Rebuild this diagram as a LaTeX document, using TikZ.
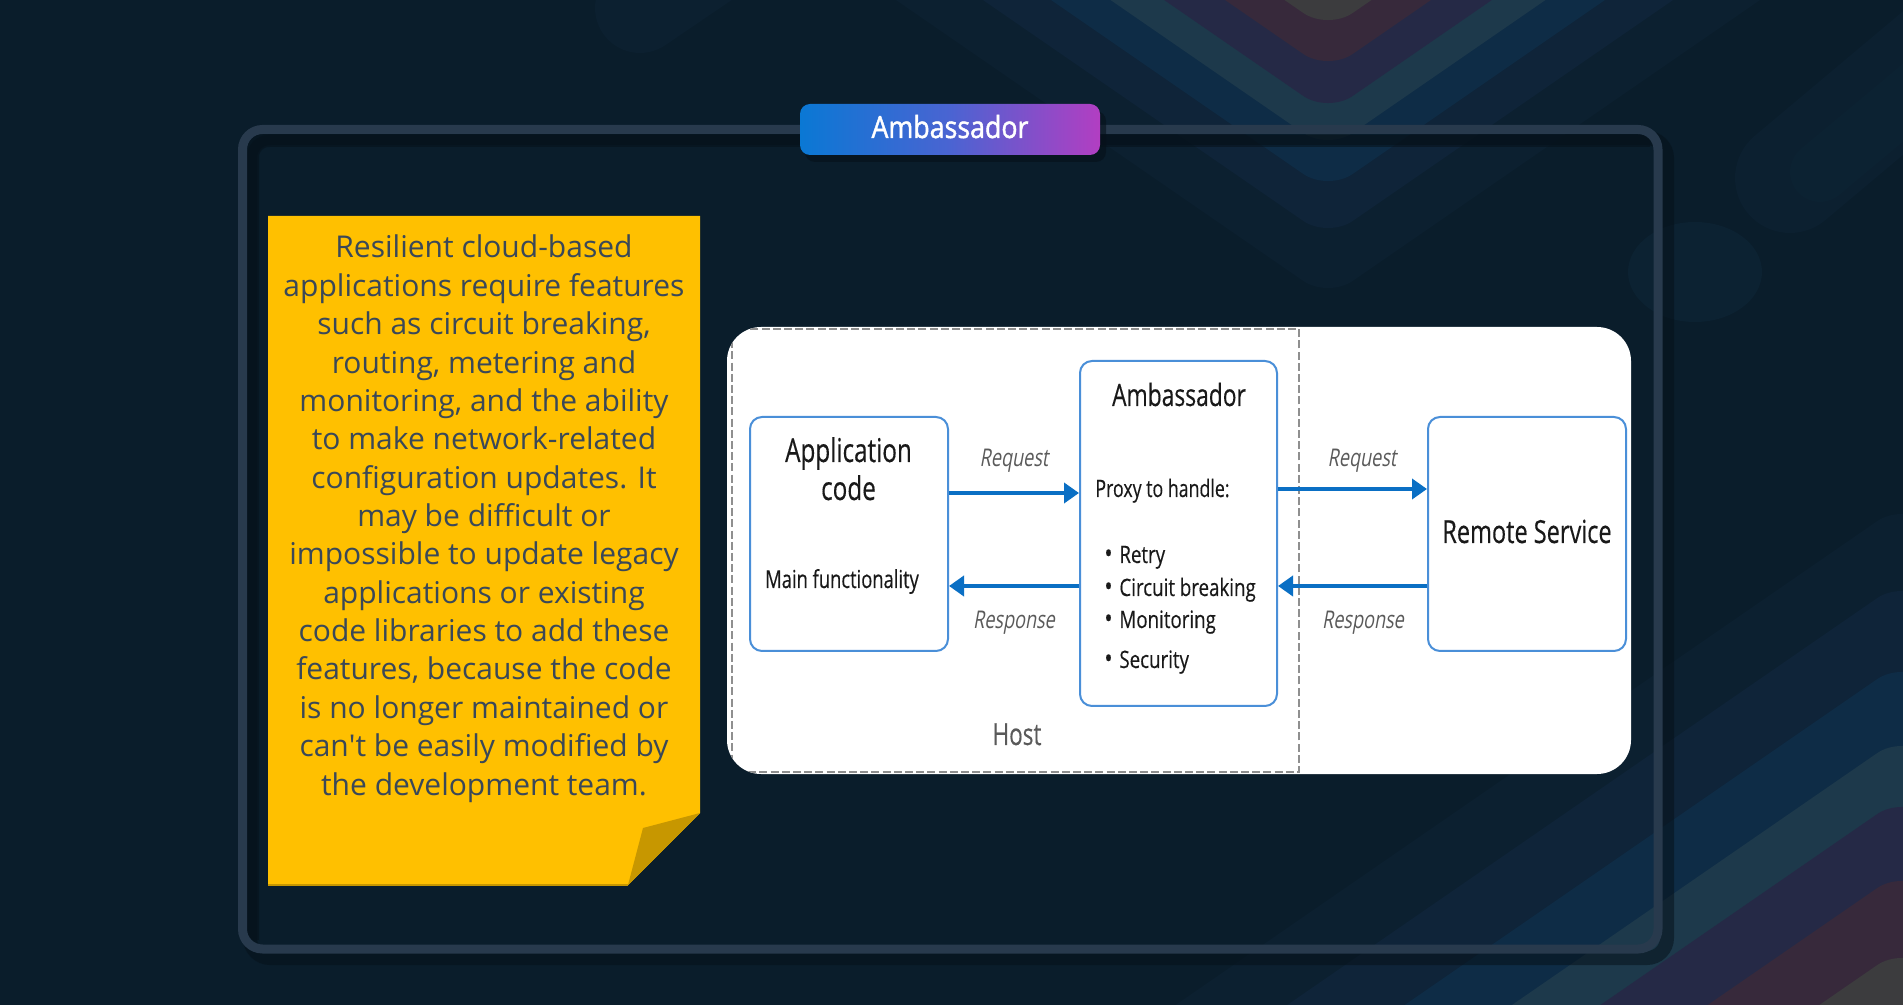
\documentclass[tikz,border=0pt]{standalone}
\usepackage{fontspec}
\usetikzlibrary{arrows.meta}
\setmainfont{Open Sans}
\newfontfamily\notefont{Open Sans}
\newfontfamily\diafont[FakeStretch=0.74,FakeBold=0.3]{Open Sans}
\newfontfamily\bulfont[FakeStretch=0.78,FakeBold=0.3]{Open Sans}
\newfontfamily\diaitfont[FakeStretch=0.74,FakeSlant=0.18]{Open Sans}
\newfontfamily\badgefont[FakeStretch=0.88,FakeBold=1.4]{Open Sans}
\definecolor{bg}{HTML}{0A1D2B}
\definecolor{cA}{HTML}{0C2030}
\definecolor{cB}{HTML}{0F2439}
\definecolor{cC}{HTML}{0E2C46}
\definecolor{cD}{HTML}{1D394B}
\definecolor{cE}{HTML}{252946}
\definecolor{cF}{HTML}{37293B}
\definecolor{cG}{HTML}{3C3C3E}
\definecolor{faint}{HTML}{0C2232}
\definecolor{frameC}{HTML}{283A4D}
\definecolor{shadowC}{HTML}{06111A}
\definecolor{noteY}{HTML}{FFC000}
\definecolor{flapY}{HTML}{C79700}
\definecolor{noteText}{HTML}{3A4858}
\definecolor{boxBlue}{HTML}{4A8FD8}
\definecolor{arrowBlue}{HTML}{0A6FC4}
\definecolor{hostGray}{HTML}{8F8F8F}
\definecolor{labelGray}{HTML}{5A5A5A}
\definecolor{badgeL}{HTML}{0A78D4}
\definecolor{badgeM}{HTML}{4A64D2}
\definecolor{badgeR}{HTML}{B23EC2}
\tikzset{
  notetext/.style={anchor=base, inner sep=0pt, text=noteText, font=\notefont\fontsize{15.0}{18}\selectfont},
  dbox/.style={draw=boxBlue, line width=1pt, rounded corners=6pt, fill=white, inner sep=0pt},
  arr/.style={draw=arrowBlue, line width=2pt, -{Triangle[length=7.5pt,width=10pt]}},
  lbl/.style={anchor=base, inner sep=0pt, text=labelGray, font=\diaitfont\fontsize{12.2}{15}\selectfont},
  dtext/.style={anchor=base, inner sep=0pt, text=black!90},
  bullet/.style={anchor=base west, inner sep=0pt, text=black!90, font=\bulfont\fontsize{12.0}{14}\selectfont},
}
\newcommand{\blt}{\makebox[7.5pt][l]{\fontsize{14}{14}\selectfont\textbullet}}
\begin{document}
\begin{tikzpicture}[x=0.5pt,y=-0.5pt]
\useasboundingbox (0,0) rectangle (1903,1005);
\fill[bg] (0,0) rectangle (1903,1005);
% background decorations
\begin{scope}
\clip (0,0) rectangle (1903,1005);
\foreach \A/\c in {298/cA, 238/cB, 191/cC, 150/cD, 113/cE, 71/cF, 30/cG}
  \fill[\c, rounded corners=15pt] ({1328-(\A+80)*1.45},-80) -- (1328,\A) -- ({1328+(\A+80)*1.45},-80) -- cycle;
\foreach \B/\c in {504/cA, 581/cB, 662/cC, 736/cD, 797/cE, 871/cF, 948/cG}
  \fill[\c, rounded corners=15pt] ({1902-(1085-\B)*1.45},1085) -- (1902,\B) -- ({1902+(1085-\B)*1.45},1085) -- cycle;
\draw[cA, line width=55pt, line cap=round] (1790,178) -- (1990,10);
\draw[faint, line width=30pt, line cap=round] (1820,172) -- (1990,30);
\draw[cA, line width=45pt, line cap=round] (640,8) -- (740,-60);
\fill[faint] (1695,272) ellipse [x radius=67, y radius=50];
\end{scope}
% frame
\draw[shadowC, opacity=0.55, line width=7pt, rounded corners=10pt] (250,138) rectangle (1667,958);
\draw[shadowC, opacity=0.55, line width=6pt, rounded corners=8pt] (1650,141) -- (253,141) -- (253,940);
\draw[frameC, line width=4.5pt, rounded corners=10pt] (242.5,129.5) rectangle (1658,949);
% title badge
\fill[shadowC, opacity=0.6, rounded corners=5pt] (805,111) rectangle (1106,162);
\node[rounded corners=5pt, left color=badgeL, right color=badgeR, middle color=badgeM,
      minimum width=150pt, minimum height=25.5pt, inner sep=0pt] (badge) at (950,129.5) {};
\node[anchor=base, inner sep=0pt, text=white, font=\badgefont\fontsize{15.2}{18}\selectfont] (badgetxt) at (950,138) {Ambassador};
% sticky note
\fill[noteY] (268,216) -- (700,216) -- (700,813) -- (628,885) -- (268,885) -- cycle;
\fill[flapY] (700,813) -- (643,828) -- (628,885) -- cycle;
\draw[flapY, line width=1pt] (268,885) -- (628,885);
\foreach \t [count=\i] in {{Resilient cloud-based},{applications require features},{such as circuit breaking,},{routing, metering and},{monitoring, and the ability},{to make network-related},{configuration updates. It},{may be difficult or},{impossible to update legacy},{applications or existing},{code libraries to add these},{features, because the code},{is no longer maintained or},{can\textquotesingle t be easily modified by},{the development team.}}
  \node[notetext] (note\i) at (484,{258+(\i-1)*38.36}) {\t};
% diagram panel
\fill[white, rounded corners=17pt] (727,327) rectangle (1631,774);
\begin{scope}
\clip[rounded corners=17pt] (727,327) rectangle (1631,774);
\draw[hostGray, line width=0.75pt, dash pattern=on 4pt off 1.6pt] (732,329) rectangle (1299,772);
\end{scope}
\node[dbox, minimum width=99pt, minimum height=117pt] (app) at (849,534) {};
\node[dbox, minimum width=98.5pt, minimum height=172.5pt] (amb) at (1178.5,533.5) {};
\node[dbox, minimum width=99pt, minimum height=117pt] (remote) at (1527,534) {};
\node[dtext, font=\diafont\fontsize{16.4}{19}\selectfont] (appt1) at (848.5,462) {Application};
\node[dtext, font=\diafont\fontsize{16.4}{19}\selectfont] (appt2) at (848.5,500) {code};
\node[dtext, font=\diafont\fontsize{12.4}{15}\selectfont] (appmain) at (842,588) {Main functionality};
\node[dtext, font=\diafont\fontsize{15.4}{18}\selectfont] (ambt) at (1179,406) {Ambassador};
\node[dtext, anchor=base west, font=\diafont\fontsize{12.0}{14}\selectfont] (proxy) at (1095,497) {Proxy to handle:};
\node[bullet] (b1) at (1104,563) {\blt Retry};
\node[bullet] (b2) at (1104,596) {\blt Circuit breaking};
\node[bullet] (b3) at (1104,628) {\blt Monitoring};
\node[bullet] (b4) at (1104,668) {\blt Security};
\node[dtext, font=\diafont\fontsize{15.9}{18}\selectfont] (remt) at (1527,543) {Remote Service};
\node[anchor=base, inner sep=0pt, text=labelGray, font=\diafont\fontsize{15.2}{18}\selectfont] (host) at (1017,745) {Host};
% connectors
\coordinate (yq) at (0,493);
\coordinate (yr) at (0,586);
\coordinate (yq2) at (0,489);
\draw[arr] (app.east |- yq) -- (amb.west |- yq);
\draw[arr] (amb.west |- yr) -- (app.east |- yr);
\draw[arr] (amb.east |- yq2) -- (remote.west |- yq2);
\draw[arr] (remote.west |- yr) -- (amb.east |- yr);
\node[lbl] (lq1) at (1014,467) {Request};
\node[lbl] (lr1) at (1014,629) {Response};
\node[lbl] (lq2) at (1362,467) {Request};
\node[lbl] (lr2) at (1363,629) {Response};
\end{tikzpicture}
\end{document}
